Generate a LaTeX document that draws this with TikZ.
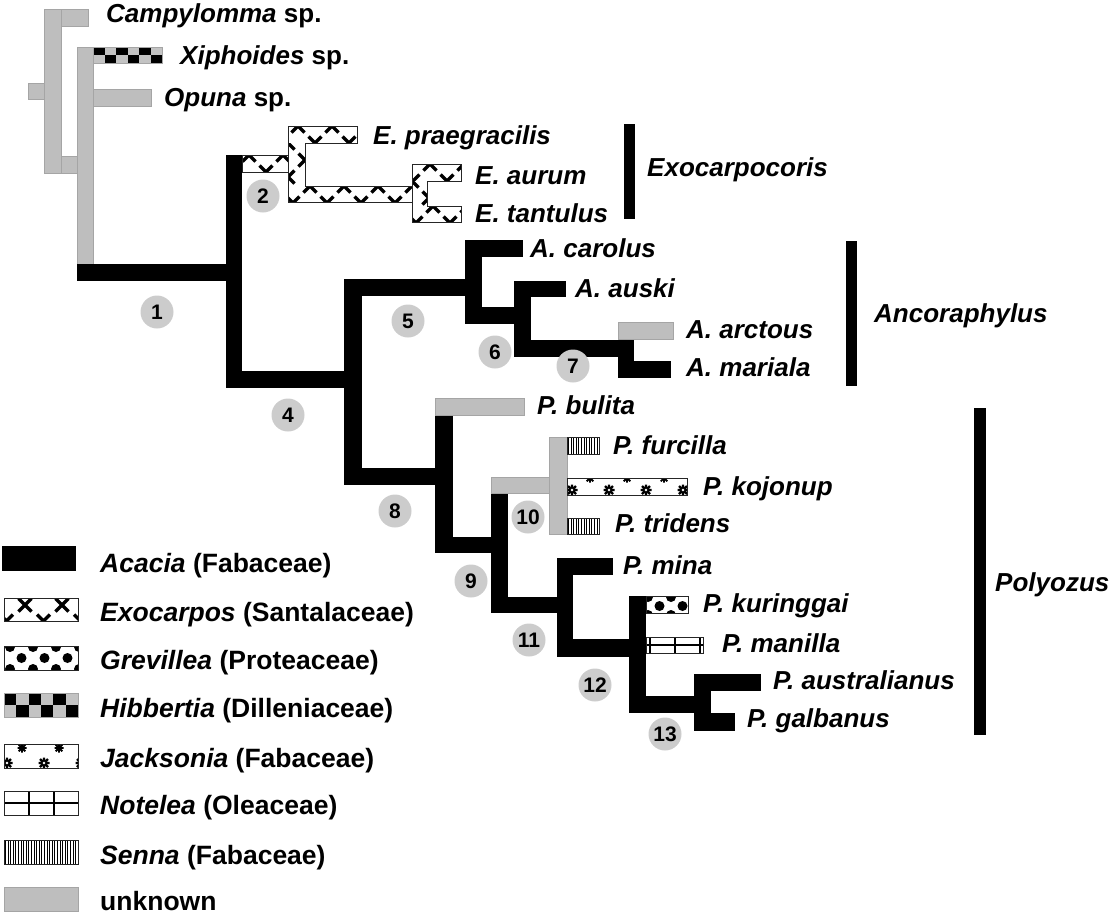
\documentclass[tikz,border=0pt]{standalone}
\usepackage{fontspec}
\setmainfont{Liberation Sans}
\definecolor{unk}{RGB}{190,190,190}
\definecolor{unkline}{RGB}{165,165,165}
\definecolor{circ}{RGB}{204,204,204}
\definecolor{hibgray}{RGB}{195,195,195}
\tikzset{
  lab/.style={anchor=base west, inner sep=0pt, font=\fontsize{26pt}{30pt}\selectfont\bfseries},
  leglab/.style={anchor=base west, inner sep=0pt, font=\fontsize{26.5pt}{30pt}\selectfont\bfseries},
  num/.style={circle, fill=circ, minimum size=33pt, inner sep=0pt,
    font=\fontsize{21pt}{24pt}\selectfont\bfseries, text height=15pt, text depth=0pt},
  acac/.style={fill=black},
  unkn/.style={fill=unk, draw=unkline, line width=0.8pt},
  patline/.style={draw=black!85, line width=0.8pt},
  exomark/.style={draw=black, line width=3.4pt},
  cladebar/.style={fill=black},
}
% Acacia (black) and unknown (grey) branch pieces
\newcommand\acrect[4]{\fill[acac] (#1,#2) rectangle (#3,#4);}
\newcommand\unrect[4]{\filldraw[unkn] (#1,#2) rectangle (#3,#4);}
% Exocarpos pattern: x1 y1 x2 y2 ox oy hx hy
\newcommand\exorect[8]{%
  \begin{scope}
    \clip (#1,#2) rectangle (#3,#4);
    \fill[white] (#1,#2) rectangle (#3,#4);
    \foreach \i in {-1,...,9}{\foreach \j in {-1,...,5}{
      \pgfmathtruncatemacro\exopar{mod(\i+\j+20,2)}
      \ifnum\exopar=0
        \pgfmathsetmacro\px{#5+\i*#7}\pgfmathsetmacro\py{#6+\j*#8}
        \draw[exomark] (\px-6.5,\py-6.5) -- (\px+6.5,\py+6.5) (\px-6.5,\py+6.5) -- (\px+6.5,\py-6.5);
      \fi}}
  \end{scope}}
% Hibbertia checker: 6 x 2
\newcommand\hibrect[4]{%
  \fill[hibgray] (#1,#2) rectangle (#3,#4);
  \pgfmathsetmacro\hw{(#3-#1)/6}\pgfmathsetmacro\hh{(#4-#2)/2}
  \foreach \i in {0,...,5}{\foreach \j in {0,1}{
    \pgfmathtruncatemacro\hp{mod(\i+\j,2)}
    \ifnum\hp=0 \fill[black] (#1+\i*\hw,#2+\j*\hh) rectangle ++(\hw,\hh);\fi}}
  \draw[draw=unkline, line width=0.8pt] (#1,#2) rectangle (#3,#4);}
% Grevillea dots: x1 y1 x2 y2 offx dy
\newcommand\grevrect[6]{%
  \begin{scope}
    \clip (#1,#2) rectangle (#3,#4);
    \fill[white] (#1,#2) rectangle (#3,#4);
    \foreach \j in {0,...,3}{\foreach \i in {-1,...,4}{
      \pgfmathsetmacro\gx{#1+#5+\i*23+mod(\j,2)*11.5}
      \pgfmathsetmacro\gy{#2+1+\j*#6}
      \fill[black] (\gx,\gy) circle (5pt);}}
  \end{scope}
  \draw[patline] (#1,#2) rectangle (#3,#4);}
% Jacksonia: x1 y1 x2 y2 topx topy botx boty
\newcommand\jackrect[8]{%
  \begin{scope}
    \clip (#1,#2) rectangle (#3,#4);
    \fill[white] (#1,#2) rectangle (#3,#4);
    \foreach \k in {-1,...,4}{
      \pgfmathsetmacro\ax{#5+\k*37}\pgfmathsetmacro\bx{#7+\k*37}
      \draw[line width=1.8pt] (\ax-4.5,#6) -- (\ax+4.5,#6) (\ax,#6-4.5) -- (\ax,#6+4.5)
        (\ax-3.3,#6-3.3) -- (\ax+3.3,#6+3.3) (\ax-3.3,#6+3.3) -- (\ax+3.3,#6-3.3);
      \draw[line width=2.2pt] (\bx-5.5,#8) -- (\bx+5.5,#8) (\bx,#8-5.5) -- (\bx,#8+5.5)
        (\bx-4,#8-4) -- (\bx+4,#8+4) (\bx-4,#8+4) -- (\bx+4,#8-4);
      \fill[white] (\bx,#8) circle (1.3pt);}
  \end{scope}
  \draw[patline] (#1,#2) rectangle (#3,#4);}
% Notelea grid: x1 y1 x2 y2 firstx
\newcommand\notrect[5]{%
  \fill[white] (#1,#2) rectangle (#3,#4);
  \begin{scope}
    \clip (#1,#2) rectangle (#3,#4);
    \draw[line width=2pt] (#1,{(#2+#4)/2}) -- (#3,{(#2+#4)/2});
    \foreach \k in {0,...,4}{\draw[line width=2pt] (#5+\k*25,#2) -- (#5+\k*25,#4);}
  \end{scope}
  \draw[patline] (#1,#2) rectangle (#3,#4);}
% Senna vertical hatching
\newcommand\senrect[4]{%
  \fill[white] (#1,#2) rectangle (#3,#4);
  \begin{scope}
    \clip (#1,#2) rectangle (#3,#4);
    \foreach \k in {0,...,30}{\draw[line width=0.75pt] (#1+1.3+\k*2.6,#2) -- (#1+1.3+\k*2.6,#4);}
  \end{scope}
  \draw[patline] (#1,#2) rectangle (#3,#4);}

\begin{document}
\begin{tikzpicture}[x=1pt,y=-1pt]
\useasboundingbox (0,0) rectangle (1110,914);

% ---------- unknown (grey) outgroup branches ----------
\unrect{44}{9}{61}{173}
\unrect{61}{9}{88}{26}
\unrect{28}{83}{44}{99}
\unrect{61}{156}{77}{173}
\unrect{77}{47}{93}{264}
\unrect{93}{89}{151}{106}
\hibrect{93}{47}{162}{63}

% ---------- Acacia (black) branches ----------
\acrect{77}{264}{242}{281}
\acrect{226}{155}{242}{388}
\acrect{226}{371}{362}{388}
\acrect{344}{279}{362}{485}
\acrect{344}{279}{482}{296}
\acrect{465}{240}{482}{324}
\acrect{465}{240}{523}{257}
\acrect{465}{307}{531}{324}
\acrect{514}{281}{531}{357}
\acrect{514}{281}{566}{297}
\acrect{514}{340}{634}{357}
\acrect{618}{339}{634}{378}
\acrect{618}{361}{671}{378}
\unrect{618}{322}{673}{339}
\acrect{344}{468}{453}{485}
\acrect{435}{415}{453}{553}
\unrect{435}{398}{524}{415}
\acrect{435}{537}{508}{553}
\acrect{491}{493}{508}{613}
\unrect{491}{477}{551}{493}
\unrect{549}{437}{567}{534}
\senrect{567}{437}{599}{454}
\jackrect{567}{478}{687}{495}{590}{478}{572}{490}
\senrect{567}{518}{599}{534}
\acrect{491}{597}{573}{613}
\acrect{557}{558}{573}{657}
\acrect{557}{558}{613}{575}
\acrect{557}{639}{646}{657}
\acrect{629}{596}{646}{713}
\grevrect{646}{596}{688}{613}{2}{9}
\notrect{646}{637}{703}{653}{650}
\acrect{629}{696}{711}{713}
\acrect{694}{674}{711}{731}
\acrect{694}{674}{761}{691}
\acrect{694}{713}{735}{731}

% ---------- Exocarpos branches ----------
\exorect{242}{155}{288}{172}{249}{155}{17}{17}
\draw[patline] (242,155) rectangle (288,172);
\exorect{288}{126}{357}{143}{298}{126}{17}{17}
\exorect{288}{143}{305}{186}{288}{143}{17}{17}
\exorect{288}{186}{412}{202}{310}{186}{17}{17}
\draw[patline] (288,126) -- (357,126) -- (357,143) -- (305,143) -- (305,186) -- (412,186) -- (412,202) -- (288,202) -- cycle;
\exorect{412}{164}{461}{181}{430}{164}{17}{17}
\exorect{412}{181}{427}{206}{412}{181}{17}{17}
\exorect{412}{206}{461}{222}{433}{206}{17}{17}
\draw[patline] (412,164) -- (461,164) -- (461,181) -- (427,181) -- (427,206) -- (461,206) -- (461,222) -- (412,222) -- cycle;

% ---------- clade bars ----------
\fill[cladebar] (624,124) rectangle (635,219);
\fill[cladebar] (846,241) rectangle (857,386);
\fill[cladebar] (974,408) rectangle (986,735);

% ---------- node numbers ----------
\node[num] (n1) at (157,312) {1};
\node[num] (n2) at (263,196) {2};
\node[num] (n4) at (288,415) {4};
\node[num] (n5) at (408,321) {5};
\node[num] (n6) at (495,352) {6};
\node[num] (n7) at (573,366) {7};
\node[num] (n8) at (395,511) {8};
\node[num] (n9) at (471,581) {9};
\node[num] (n10) at (528,517) {10};
\node[num] (n11) at (529,640) {11};
\node[num] (n12) at (595,685) {12};
\node[num] (n13) at (665,734) {13};

% ---------- taxon labels ----------
\node[lab] (campy) at (106,22) {\itshape Campylomma\upshape{} sp.};
\node[lab] (xiph) at (180,64) {\itshape Xiphoides\upshape{} sp.};
\node[lab] (opuna) at (164,106) {\itshape Opuna\upshape{} sp.};
\node[lab] (epra) at (373,144) {\itshape E. praegracilis};
\node[lab] (eaur) at (475,184) {\itshape E. aurum};
\node[lab] (etan) at (475,222) {\itshape E. tantulus};
\node[lab] (exoc) at (647,176) {\itshape Exocarpocoris};
\node[lab] (acar) at (530,257) {\itshape A. carolus};
\node[lab] (aaus) at (575,297) {\itshape A. auski};
\node[lab] (ancor) at (874,322) {\itshape Ancoraphylus};
\node[lab] (aarc) at (686,338) {\itshape A. arctous};
\node[lab] (amar) at (686,376) {\itshape A. mariala};
\node[lab] (pbul) at (537,414) {\itshape P. bulita};
\node[lab] (pfur) at (613,454) {\itshape P. furcilla};
\node[lab] (pkoj) at (703,495) {\itshape P. kojonup};
\node[lab] (ptri) at (615,532) {\itshape P. tridens};
\node[lab] (pmin) at (623,574) {\itshape P. mina};
\node[lab] (pkur) at (703,612) {\itshape P. kuringgai};
\node[lab] (pman) at (722,652) {\itshape P. manilla};
\node[lab] (paus) at (773,689) {\itshape P. australianus};
\node[lab] (pgal) at (747,727) {\itshape P. galbanus};
\node[lab] (polyo) at (995,591) {\itshape Polyozus};

% ---------- legend ----------
\fill[acac] (2,546) rectangle (76,571);
\exorect{4}{598}{78}{621}{25}{605}{18.5}{16}
\draw[patline] (4,598) rectangle (78,621);
\grevrect{4}{646}{78}{670}{6}{11}
\hibrect{4}{693}{78}{717}
\jackrect{4}{744}{78}{768}{22}{748}{7}{763}
\notrect{4}{791}{78}{815}{4}
\senrect{4}{840}{78}{864}
\unrect{4}{887}{78}{911}
\node[leglab] (lg1) at (100,572) {\itshape Acacia\upshape{} (Fabaceae)};
\node[leglab] (lg2) at (100,621) {\itshape Exocarpos\upshape{} (Santalaceae)};
\node[leglab] (lg3) at (100,669) {\itshape Grevillea\upshape{} (Proteaceae)};
\node[leglab] (lg4) at (100,717) {\itshape Hibbertia\upshape{} (Dilleniaceae)};
\node[leglab] (lg5) at (100,767) {\itshape Jacksonia\upshape{} (Fabaceae)};
\node[leglab] (lg6) at (100,814) {\itshape Notelea\upshape{} (Oleaceae)};
\node[leglab] (lg7) at (100,864) {\itshape Senna\upshape{} (Fabaceae)};
\node[leglab] (lg8) at (100,910) {unknown};
\end{tikzpicture}
\end{document}
